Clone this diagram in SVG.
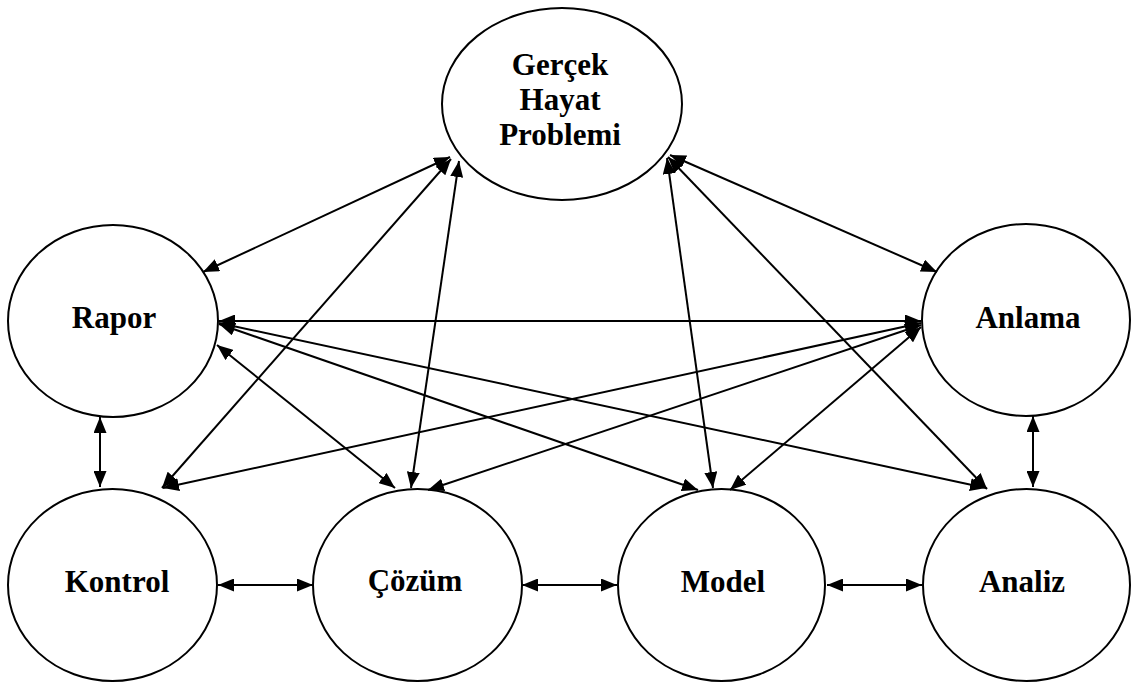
<svg xmlns="http://www.w3.org/2000/svg" width="1132" height="682" viewBox="0 0 1132 682">
  <style>
    .node ellipse { fill: #ffffff; stroke: #000000; stroke-width: 2; }
    .node text { font-family: "Liberation Serif", "Times New Roman", serif; font-weight: bold; font-size: 31px; fill: #000000; text-anchor: middle; }
    #connectors line { stroke: #000000; stroke-width: 2; marker-start: url(#head); marker-end: url(#head); }
  </style>
  <defs>
    <marker id="head" markerUnits="userSpaceOnUse" markerWidth="17" markerHeight="13" refX="16" refY="6.5" orient="auto-start-reverse">
      <path d="M0,0 L16,6.5 L0,13 Z" fill="#000000"/>
    </marker>
  </defs>
  <rect width="1132" height="682" fill="#ffffff"/>

  <g id="n-gercek" class="node">
    <ellipse cx="562" cy="104" rx="120" ry="96"/>
    <text x="560" y="75">Gerçek</text>
    <text x="560" y="110">Hayat</text>
    <text x="560" y="145">Problemi</text>
  </g>
  <g id="n-rapor" class="node">
    <ellipse cx="113" cy="321" rx="105" ry="96"/>
    <text x="114" y="328">Rapor</text>
  </g>
  <g id="n-anlama" class="node">
    <ellipse cx="1026" cy="320" rx="104" ry="96"/>
    <text x="1028" y="328">Anlama</text>
  </g>
  <g id="n-kontrol" class="node">
    <ellipse cx="112.5" cy="585" rx="104.5" ry="96"/>
    <text x="117" y="592">Kontrol</text>
  </g>
  <g id="n-cozum" class="node">
    <ellipse cx="417.5" cy="585" rx="104.5" ry="96"/>
    <text x="415" y="591">Çözüm</text>
  </g>
  <g id="n-model" class="node">
    <ellipse cx="721.5" cy="585" rx="103.5" ry="96"/>
    <text x="723" y="592">Model</text>
  </g>
  <g id="n-analiz" class="node">
    <ellipse cx="1026.5" cy="585" rx="103.5" ry="96"/>
    <text x="1022" y="592">Analiz</text>
  </g>

  <g id="connectors">
    <!-- Gerçek Hayat Problemi links -->
    <line x1="450" y1="157" x2="203" y2="272"/>
    <line x1="451" y1="159" x2="162" y2="488"/>
    <line x1="459" y1="161" x2="411" y2="488"/>
    <line x1="667" y1="158" x2="713" y2="488"/>
    <line x1="668" y1="157" x2="987" y2="489"/>
    <line x1="670" y1="155" x2="937" y2="272"/>
    <!-- Rapor links -->
    <line x1="219" y1="321" x2="921" y2="321"/>
    <line x1="219" y1="324" x2="698" y2="490"/>
    <line x1="219" y1="323" x2="986" y2="488"/>
    <line x1="217" y1="345" x2="395" y2="488"/>
    <!-- Anlama links -->
    <line x1="921" y1="323" x2="163" y2="488"/>
    <line x1="921" y1="325" x2="428" y2="490"/>
    <line x1="921" y1="327" x2="730" y2="490"/>
    <!-- vertical links -->
    <line x1="100" y1="417" x2="100" y2="487"/>
    <line x1="1033" y1="416" x2="1033" y2="487"/>
    <!-- bottom row -->
    <line x1="218" y1="585" x2="313" y2="585"/>
    <line x1="522" y1="585" x2="617" y2="585"/>
    <line x1="827" y1="585" x2="922" y2="585"/>
  </g>
</svg>
